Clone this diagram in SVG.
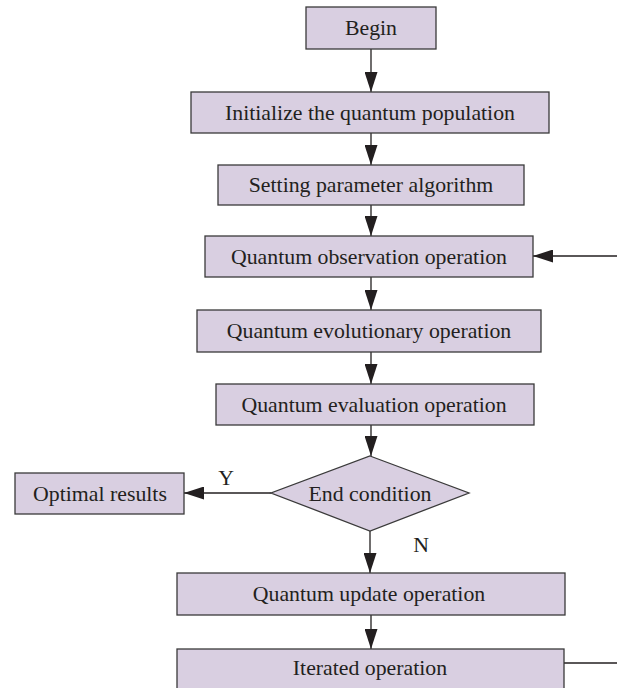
<svg xmlns="http://www.w3.org/2000/svg" width="617" height="688" viewBox="0 0 617 688">
<style>
.box{fill:#d9cfe1;stroke:#3a3a3a;stroke-width:1.3}
.t{font-family:"Liberation Serif","Times New Roman",serif;font-size:21.8px;fill:#231f20;text-anchor:middle}
.c{stroke:#231f20;stroke-width:1.3;fill:none}
</style>
<defs>
<marker id="ah" markerWidth="20" markerHeight="13" refX="20" refY="6.5" orient="auto" markerUnits="userSpaceOnUse">
<path d="M0,0 L20,6.5 L0,13 Z" fill="#231f20"/>
</marker>
</defs>
<rect width="617" height="688" fill="#ffffff"/>
<g id="connectors">
<line class="c" x1="371" y1="49" x2="371" y2="92" marker-end="url(#ah)"/>
<line class="c" x1="371" y1="133" x2="371" y2="165" marker-end="url(#ah)"/>
<line class="c" x1="371" y1="205" x2="371" y2="236" marker-end="url(#ah)"/>
<line class="c" x1="617" y1="256" x2="533" y2="256" marker-end="url(#ah)"/>
<line class="c" x1="371" y1="277" x2="371" y2="310" marker-end="url(#ah)"/>
<line class="c" x1="371" y1="352" x2="371" y2="384" marker-end="url(#ah)"/>
<line class="c" x1="371" y1="425" x2="371" y2="456" marker-end="url(#ah)"/>
<line class="c" x1="271" y1="493" x2="184" y2="493" marker-end="url(#ah)"/>
<line class="c" x1="370" y1="531" x2="370" y2="573" marker-end="url(#ah)"/>
<line class="c" x1="371" y1="615" x2="371" y2="649" marker-end="url(#ah)"/>
<line class="c" x1="564" y1="663" x2="617" y2="663"/>
<text class="t" x="226" y="485">Y</text>
<text class="t" x="421" y="552">N</text>
</g>
<g id="begin"><rect class="box" x="306" y="7" width="130" height="42"/><text class="t" x="371" y="35">Begin</text></g>
<g id="init"><rect class="box" x="191" y="92" width="358" height="41"/><text class="t" x="370" y="120">Initialize the quantum population</text></g>
<g id="setting"><rect class="box" x="218" y="165" width="306" height="40"/><text class="t" x="371" y="192">Setting parameter algorithm</text></g>
<g id="observation"><rect class="box" x="205" y="236" width="328" height="41"/><text class="t" x="369" y="264">Quantum observation operation</text></g>
<g id="evolutionary"><rect class="box" x="197" y="310" width="344" height="42"/><text class="t" x="369" y="338">Quantum evolutionary operation</text></g>
<g id="evaluation"><rect class="box" x="216" y="384" width="318" height="41"/><text class="t" x="374" y="412">Quantum evaluation operation</text></g>
<g id="endcond"><polygon class="box" points="370,456 469,493 370,531 271,493"/><text class="t" x="370" y="501">End condition</text></g>
<g id="optimal"><rect class="box" x="15" y="473" width="169" height="41"/><text class="t" x="100" y="501">Optimal results</text></g>
<g id="update"><rect class="box" x="177" y="573" width="388" height="42"/><text class="t" x="369" y="601">Quantum update operation</text></g>
<g id="iterated"><rect class="box" x="177" y="649" width="387" height="45"/><text class="t" x="370" y="675">Iterated operation</text></g>
</svg>
